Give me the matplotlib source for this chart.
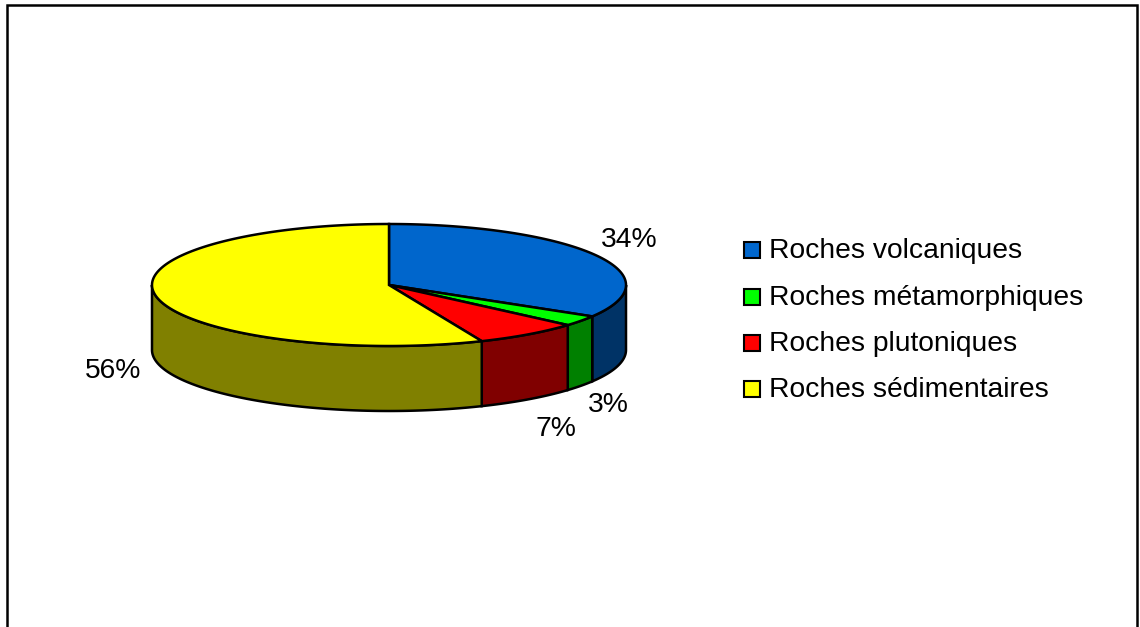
import numpy as np
import matplotlib
matplotlib.use('Agg')
import matplotlib.pyplot as plt
from matplotlib.patches import Polygon, Rectangle

# shares as read from the slice boundaries, labels are rounded from them
categories = ['Roches volcaniques', 'Roches métamorphiques', 'Roches plutoniques', 'Roches sédimentaires']
shares = [33.6, 2.8, 7.2, 56.4]
top_colors = ['#0066CC', '#00FF00', '#FF0000', '#FFFF00']
side_colors = ['#003366', '#008000', '#800000', '#808000']
label_pos = [(629, 240), (608, 405), (556, 429), (113, 371)]
legend_y = [251, 298, 344, 390]

cx, cy, rx, ry, depth = 389, 285, 237, 61, 65
lw = 1.8

plt.rcParams['font.family'] = ['Liberation Sans', 'DejaVu Sans']

fig = plt.figure(figsize=(11.4, 6.27), dpi=100)
ax = fig.add_axes([0, 0, 1, 1])
ax.set_xlim(0, 1140)
ax.set_ylim(627, 0)
ax.axis('off')


def rim(a0, a1, dy=0):
    # clockwise from 12 o'clock, in degrees
    t = np.radians(np.linspace(a0, a1, max(int(abs(a1 - a0)) * 2, 2)))
    return np.column_stack((cx + rx * np.sin(t), cy + dy - ry * np.cos(t)))


edges = np.cumsum([0] + shares) * 3.6

# side walls first, only the front half shows
for i in range(len(shares)):
    a0 = max(edges[i], 90)
    a1 = min(edges[i + 1], 270)
    if a1 > a0:
        pts = np.vstack((rim(a0, a1), rim(a0, a1, depth)[::-1]))
        ax.add_patch(Polygon(pts, closed=True, fc=side_colors[i], ec='black', lw=lw, zorder=2))

for i in range(len(shares)):
    pts = np.vstack(([[cx, cy]], rim(edges[i], edges[i + 1])))
    ax.add_patch(Polygon(pts, closed=True, fc=top_colors[i], ec='black', lw=lw, zorder=3))

for i in range(len(shares)):
    ax.text(label_pos[i][0], label_pos[i][1], '%d%%' % round(shares[i]),
            fontsize=20.3, ha='center', va='center', color='black')

    ax.add_patch(Rectangle((744, legend_y[i] - 9), 16, 16, fc=top_colors[i], ec='black', lw=1.5))
    ax.text(769, legend_y[i], categories[i], fontsize=20.3, ha='left', va='center', color='black')

# frame runs off the bottom of the picture
ax.plot([7, 7, 1137, 1137], [640, 5, 5, 640], color='black', lw=1.8, solid_joinstyle='miter', clip_on=True)

fig.savefig('out.png', dpi=100, facecolor='white')
